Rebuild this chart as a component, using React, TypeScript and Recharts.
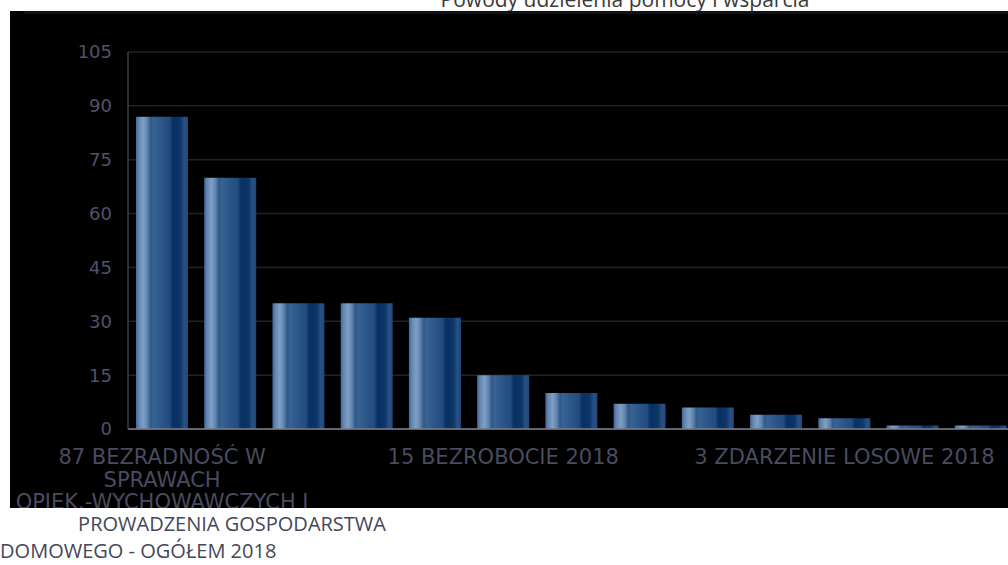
import React from "react";
import { BarChart, Bar, XAxis, YAxis, CartesianGrid } from "recharts";

const title = "Powody udzielenia pomocy i wsparcia";
const year = "2018";
const categories = [
  "BEZRADNOŚĆ W SPRAWACH OPIEK.-WYCHOWAWCZYCH I PROWADZENIA GOSPODARSTWA DOMOWEGO - OGÓŁEM",
  "UBÓSTWO",
  "DŁUGOTRWAŁA LUB CIĘŻKA CHOROBA",
  "NIEPEŁNOSPRAWNOŚĆ",
  "POTRZEBA OCHRONY MACIERZYŃSTWA",
  "BEZROBOCIE",
  "ALKOHOLIZM",
  "PRZEMOC W RODZINIE",
  "BEZDOMNOŚĆ",
  "SYTUACJA KRYZYSOWA",
  "ZDARZENIE LOSOWE",
  "NARKOMANIA",
  "TRUDNOŚCI PO OPUSZCZENIU ZAKŁADU KARNEGO",
];
const values = [87, 70, 35, 35, 31, 15, 10, 7, 6, 4, 3, 1, 1];
const yTicks = [0, 15, 30, 45, 60, 75, 90, 105];

const data = categories.map((c, i) => ({
  label: `${values[i]} ${c} ${year}`,
  value: values[i],
}));

function wrapWords(words: string[], maxChars: number): string[][] {
  const lines: string[][] = [];
  let cur: string[] = [];
  for (const w of words) {
    const test = [...cur, w].join(" ");
    if (cur.length && test.length > maxChars) {
      lines.push(cur);
      cur = [w];
    } else cur.push(w);
  }
  if (cur.length) lines.push(cur);
  return lines;
}

const XTick = (props: any) => {
  const { x, y, payload } = props;
  const words = String(payload.value).split(" ");
  const lines = wrapWords(words, 23);
  const inner = lines.slice(0, 3).map((l) => l.join(" "));
  const restWords = lines.slice(3).flat();
  const overflow = wrapWords(restWords, 24).map((l) => l.join(" "));
  return (
    <g>
      <defs>
        <clipPath id={`clipTick${payload.index}`}>
          <rect x={10} y={11} width={1100} height={497} />
        </clipPath>
      </defs>
      <g clipPath={`url(#clipTick${payload.index})`}>
        {inner.map((t, i) => (
          <text
            key={i}
            x={x}
            y={y + 35 + i * 22.5}
            textAnchor="middle"
            fontFamily="DejaVu Sans"
            fontSize={21}
            fill="#4a4b5f"
          >
            {t}
          </text>
        ))}
      </g>
      {overflow.map((t, i) => (
        <text
          key={"o" + i}
          x={i === 0 ? x - 84 : x - 162}
          y={y + 102 + i * 27}
          textAnchor="start"
          fontFamily="Open Sans"
          fontSize={20}
          fill="#44475a"
        >
          {t}
        </text>
      ))}
    </g>
  );
};

export default function App() {
  return (
    <div
      style={{
        position: "fixed",
        left: 0,
        top: 0,
        width: 1008,
        height: 565,
        overflow: "hidden",
        background: "#ffffff",
      }}
    >
      <svg
        width={1008}
        height={20}
        style={{ position: "absolute", left: 0, top: 0 }}
      >
        <text
          x={625}
          y={7}
          textAnchor="middle"
          fontFamily="Open Sans"
          fontSize={21}
          fill="#3a3a3a"
        >
          {title}
        </text>
      </svg>
      <div
        style={{
          position: "absolute",
          left: 10,
          top: 11,
          width: 1100,
          height: 497,
          background: "#000000",
        }}
      />
      <div
        style={{
          position: "absolute",
          left: 24,
          top: 11,
          width: 1100,
          height: 3,
          background: "#121214",
        }}
      />
      <div style={{ position: "absolute", left: 0, top: 0 }}>
        <BarChart
          width={1100}
          height={565}
          data={data}
          margin={{ top: 52, right: 85, bottom: 0, left: 0 }}
        >
          <defs>
            <linearGradient id="barGrad" x1="0" y1="0" x2="1" y2="0">
              <stop offset="0" stopColor="#41679a" />
              <stop offset="0.06" stopColor="#6589b3" />
              <stop offset="0.14" stopColor="#7f9fc4" />
              <stop offset="0.22" stopColor="#5f83ae" />
              <stop offset="0.27" stopColor="#375f90" />
              <stop offset="0.3" stopColor="#2f5988" />
              <stop offset="0.33" stopColor="#386393" />
              <stop offset="0.5" stopColor="#2a5588" />
              <stop offset="0.65" stopColor="#224b80" />
              <stop offset="0.68" stopColor="#123a6c" />
              <stop offset="0.72" stopColor="#0a3063" />
              <stop offset="0.85" stopColor="#0d3566" />
              <stop offset="0.9" stopColor="#1d4678" />
              <stop offset="0.93" stopColor="#295182" />
              <stop offset="1" stopColor="#224678" />
            </linearGradient>
          </defs>
          <CartesianGrid vertical={false} stroke="#232325" strokeWidth={1.5} />
          <XAxis
            dataKey="label"
            interval={4}
            height={136}
            tickLine={false}
            tickSize={0}
            tickMargin={0}
            axisLine={{ stroke: "#7e7e88", strokeWidth: 1.5 }}
            tick={<XTick />}
          />
          <YAxis
            width={128}
            domain={[0, 105]}
            ticks={yTicks}
            tickLine={false}
            tickSize={0}
            tickMargin={16}
            axisLine={{ stroke: "#3e3e46", strokeWidth: 1.5 }}
            tick={{ fontFamily: "DejaVu Sans", fontSize: 18, fill: "#50516a" }}
          />
          <Bar
            dataKey="value"
            barSize={52}
            fill="url(#barGrad)"
            isAnimationActive={false}
          />
        </BarChart>
      </div>
    </div>
  );
}
